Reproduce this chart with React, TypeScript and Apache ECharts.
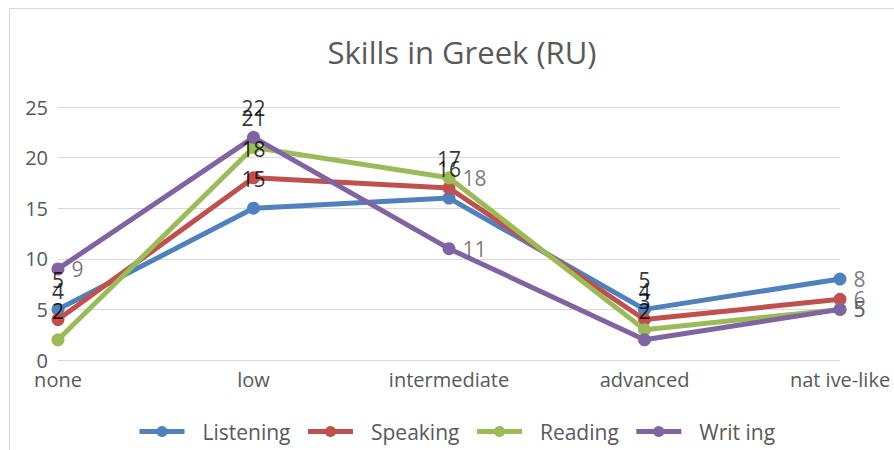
import React, { useEffect, useRef } from "react";
import * as echarts from "echarts";

const categories = ["none", "low", "intermediate", "advanced", "nat ive-like"];
const seriesNames = ["Listening", "Speaking", "Reading", "Writ ing"];
const listening = [5, 15, 16, 5, 8];
const speaking = [4, 18, 17, 4, 6];
const reading = [2, 21, 18, 3, 5];
const writing = [9, 22, 11, 2, 5];
const yTicks = [0, 5, 10, 15, 20, 25];

const colors = ["#4F81BD", "#C0504D", "#9BBB59", "#8064A2"];
const FONT = "Open Sans";

export default function App() {
  const ref = useRef<HTMLDivElement>(null);
  useEffect(() => {
    if (!ref.current) return;
    const chart = echarts.init(ref.current, undefined, { renderer: "svg" });
    const all = [listening, speaking, reading, writing];
    // which points carry a grey label on the right (others: black on top)
    const rightLabels: Record<number, number[]> = {
      0: [4],
      1: [4],
      2: [2, 4],
      3: [0, 2, 4],
    };
    const lineSeries = all.map((vals, si) => ({
      type: "line",
      name: seriesNames[si],
      data: vals,
      color: colors[si],
      lineStyle: { width: 5, color: colors[si] },
      itemStyle: { color: colors[si] },
      symbol: "circle",
      symbolSize: 13,
      z: 2 + si,
    }));
    const labelSeries = all.map((vals, si) => ({
      type: "scatter",
      name: "lbl-" + seriesNames[si],
      data: vals.map((v, i) => {
        const right = (rightLabels[si] || []).includes(i);
        return {
          value: [i, v],
          label: right
            ? { position: "right", distance: 13, color: "#595959" }
            : { position: "top", distance: 18, color: "#000000" },
        };
      }),
      symbol: "circle",
      symbolSize: 1,
      itemStyle: { color: "rgba(0,0,0,0)" },
      label: { show: true, fontFamily: FONT, fontSize: 21 },
      silent: true,
      z: 20,
    }));
    chart.setOption({
      animation: false,
      backgroundColor: "#ffffff",
      title: {
        text: "Skills in Greek (RU)",
        left: 457,
        top: 31,
        textAlign: "center",
        textStyle: { fontFamily: FONT, fontSize: 31, fontWeight: "normal", color: "#595959" },
      },
      graphic: [
        {
          type: "rect",
          shape: { x: 9.5, y: 8.5, width: 900, height: 460 },
          style: { fill: "none", stroke: "#D9D9D9", lineWidth: 1 },
          silent: true,
        },
      ],
      grid: { left: 58, right: 54, top: 107, bottom: 90 },
      legend: {
        bottom: 3,
        left: 132,
        itemWidth: 45,
        itemHeight: 14,
        itemGap: 15,
        lineStyle: { width: 5 },
        textStyle: { fontFamily: FONT, fontSize: 21, color: "#595959", padding: [0, 0, 0, 13] },
        data: seriesNames,
      },
      xAxis: {
        type: "category",
        data: categories,
        boundaryGap: false,
        axisLine: { lineStyle: { color: "#D9D9D9", width: 1 } },
        axisTick: { show: false },
        axisLabel: { fontFamily: FONT, fontSize: 20, color: "#595959", margin: 9 },
      },
      yAxis: {
        type: "value",
        min: yTicks[0],
        max: yTicks[yTicks.length - 1],
        interval: yTicks[1] - yTicks[0],
        axisLine: { show: false },
        axisTick: { show: false },
        splitLine: { lineStyle: { color: "#D9D9D9", width: 1 } },
        axisLabel: { fontFamily: FONT, fontSize: 20, color: "#595959", margin: 10 },
      },
      series: [...lineSeries, ...labelSeries],
    });
    return () => chart.dispose();
  }, []);
  return (
    <div
      ref={ref}
      style={{ position: "absolute", left: 0, top: 0, width: 894, height: 450 }}
    />
  );
}
